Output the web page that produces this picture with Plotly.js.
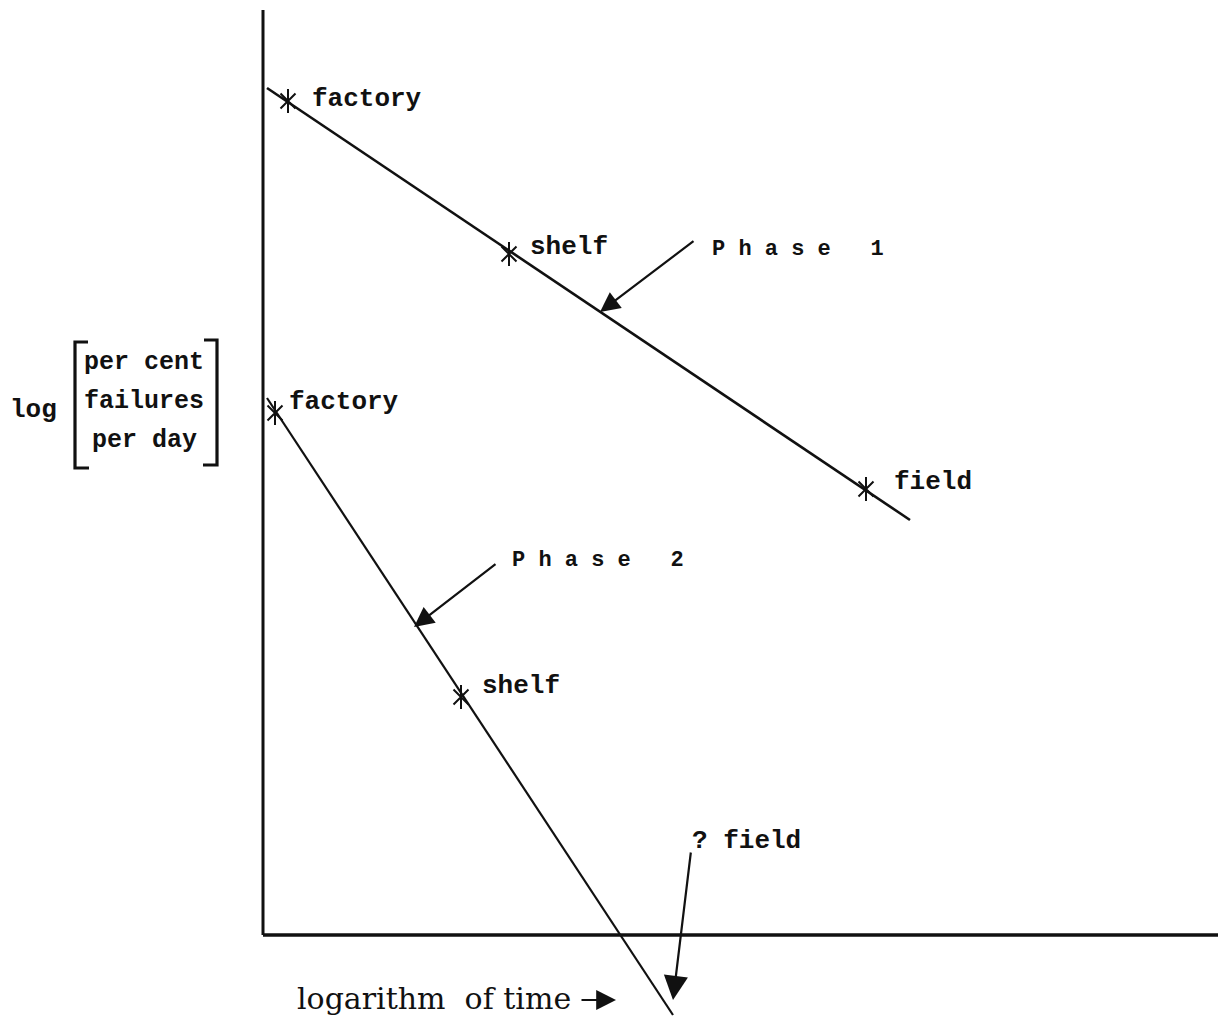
<!DOCTYPE html>
<html>
<head>
<meta charset="utf-8">
<script src="https://cdn.plot.ly/plotly-3.0.1.min.js"></script>
<style>
  html, body { margin: 0; padding: 0; background: #ffffff; }
  #chart { width: 1218px; height: 1019px; }
</style>
</head>
<body>
<div id="chart"></div>
<script>
// Phase 1: failure-rate trend line (log scale both ways) and its three stages
const phase1LineX = [0.04, 6.47];
const phase1LineY = [8.47, 4.15];
const phase1StageX = [0.25, 2.46, 6.03];
const phase1StageY = [8.34, 6.81, 4.46];
const phase1Stages = ['factory', 'shelf', 'field'];

// Phase 2: steeper trend line, field stage only extrapolated
const phase2LineX = [0.04, 4.10];
const phase2LineY = [5.37, -0.80];
const phase2StageX = [0.12, 1.98];
const phase2StageY = [5.22, 2.38];
const phase2Stages = ['factory', 'shelf'];

// Axis extents (log time across, log failure rate up)
const xAxisSpan = [0, 9.55];
const yAxisSpan = [0, 9.25];

const yLabelLines = ['per cent', 'failures', 'per day'];

const ink = '#111111';
const mono = '"Liberation Mono", "DejaVu Sans Mono", monospace';
const serif = '"DejaVu Serif", "Liberation Serif", serif';

function lineTrace(x, y, w) {
  return { x: x, y: y, type: 'scatter', mode: 'lines',
           line: { color: ink, width: w }, hoverinfo: 'skip', showlegend: false };
}
function stageTrace(x, y) {
  // six-armed asterisk: an X plus a vertical stroke
  return [
    { x: x, y: y, type: 'scatter', mode: 'markers', cliponaxis: false,
      marker: { symbol: 'x-thin-open', size: 15, color: ink, line: { color: ink, width: 2 } },
      hoverinfo: 'skip', showlegend: false },
    { x: x, y: y, type: 'scatter', mode: 'markers', cliponaxis: false,
      marker: { symbol: 'line-ns-open', size: 17, color: ink, line: { color: ink, width: 2 } },
      hoverinfo: 'skip', showlegend: false }
  ];
}

const traces = [
  lineTrace(phase1LineX, phase1LineY, 2.6),
  lineTrace(phase2LineX, phase2LineY, 2.2),
  ...stageTrace(phase1StageX, phase1StageY),
  ...stageTrace(phase2StageX, phase2StageY)
];

// label offsets (pixels) from each stage marker
const phase1Offsets = [[22, 2], [19, 7], [26, 7]];
const phase2Offsets = [[12, 11], [19, 11]];

const labelFont = { family: mono, size: 26, color: ink, weight: 'bold' };

const annotations = [];
function stageLabels(xs, ys, names, offs) {
  names.forEach(function (n, i) {
    annotations.push({ x: xs[i], y: ys[i], text: n, showarrow: false,
      xanchor: 'left', yanchor: 'middle', xshift: offs[i][0], yshift: offs[i][1],
      font: labelFont });
  });
}
stageLabels(phase1StageX, phase1StageY, phase1Stages, phase1Offsets);
stageLabels(phase2StageX, phase2StageY, phase2Stages, phase2Offsets);

function pointer(hx, hy, tx, ty, size) {
  annotations.push({ x: hx, y: hy, ax: tx, ay: ty, axref: 'x', ayref: 'y',
    text: '', showarrow: true, arrowhead: 2, arrowsize: size, arrowwidth: 2.2,
    arrowcolor: ink, standoff: 0, startstandoff: 0 });
}
pointer(3.37, 6.23, 4.32, 6.95, 1.8);
pointer(1.51, 3.08, 2.34, 3.72, 1.8);
pointer(4.10, -0.65, 4.28, 0.84, 2.2);
pointer(3.53, -0.65, 3.17, -0.65, 1.8);

const phaseFont = { family: mono, size: 22, color: ink, weight: 'bold' };
annotations.push({ x: 4.47, y: 6.86, text: 'P h a s e   1', showarrow: false,
  xanchor: 'left', yanchor: 'middle', font: phaseFont });
annotations.push({ x: 2.47, y: 3.75, text: 'P h a s e   2', showarrow: false,
  xanchor: 'left', yanchor: 'middle', font: phaseFont });
annotations.push({ x: 4.27, y: 0.94, text: '? field', showarrow: false,
  xanchor: 'left', yanchor: 'middle', font: labelFont });

// axis titles
annotations.push({ x: 0.32, y: -0.63, text: 'logarithm  of time', showarrow: false,
  xanchor: 'left', yanchor: 'middle',
  font: { family: serif, size: 30, color: ink } });
annotations.push({ x: -2.55, y: 5.25, text: 'log', showarrow: false,
  xanchor: 'left', yanchor: 'middle', font: labelFont });
const yLineY = [5.73, 5.34, 4.95];
yLabelLines.forEach(function (t, i) {
  annotations.push({ x: -1.19, y: yLineY[i], text: t, showarrow: false,
    xanchor: 'center', yanchor: 'middle', font: { family: mono, size: 25, color: ink, weight: 'bold' } });
});

const shapes = [
  { type: 'line', xref: 'x', yref: 'y', x0: xAxisSpan[0], x1: xAxisSpan[0], y0: yAxisSpan[0], y1: yAxisSpan[1],
    line: { color: ink, width: 3 } },
  { type: 'line', xref: 'x', yref: 'y', x0: xAxisSpan[0], x1: xAxisSpan[1], y0: yAxisSpan[0], y1: yAxisSpan[0],
    line: { color: ink, width: 3.4 } },
  // square brackets round the quantity
  { type: 'path', xref: 'x', yref: 'y', path: 'M -1.75 5.93 L -1.88 5.93 L -1.88 4.67 L -1.74 4.67',
    line: { color: ink, width: 3.2 } },
  { type: 'path', xref: 'x', yref: 'y', path: 'M -0.59 5.95 L -0.46 5.95 L -0.46 4.70 L -0.60 4.70',
    line: { color: ink, width: 3.2 } }
];

const layout = {
  width: 1218, height: 1019,
  margin: { l: 0, r: 0, t: 0, b: 0, pad: 0 },
  paper_bgcolor: '#ffffff', plot_bgcolor: '#ffffff',
  showlegend: false,
  xaxis: { range: [-2.63, 9.55], showgrid: false, zeroline: false, showticklabels: false, ticks: '', fixedrange: true },
  yaxis: { range: [-0.84, 9.35], showgrid: false, zeroline: false, showticklabels: false, ticks: '', fixedrange: true },
  annotations: annotations,
  shapes: shapes
};

Plotly.newPlot('chart', traces, layout, { staticPlot: true, displayModeBar: false });
</script>
</body>
</html>
